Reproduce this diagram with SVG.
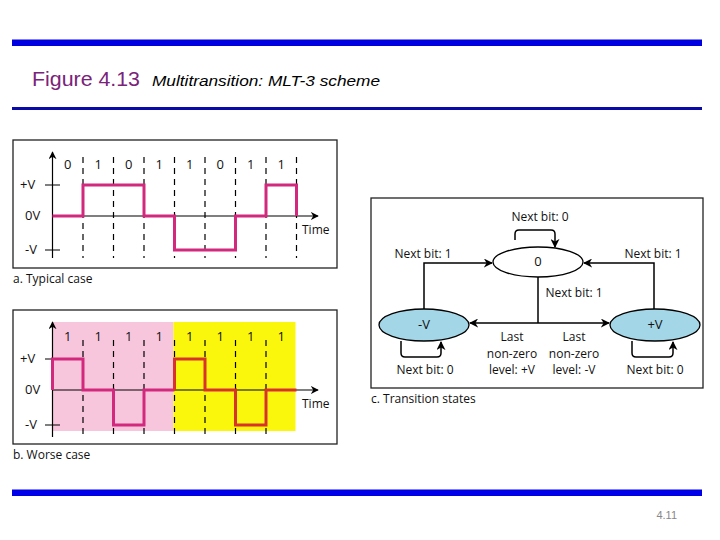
<svg xmlns="http://www.w3.org/2000/svg" width="720" height="540" viewBox="0 0 720 540">
<defs>
<marker id="ah" viewBox="0 0 10 10" refX="9" refY="5" markerWidth="9" markerHeight="9" markerUnits="userSpaceOnUse" orient="auto"><path d="M0,0 L10,5 L0,10 L3,5 Z" fill="#000"/></marker>
<marker id="ahs" viewBox="0 0 10 10" refX="9" refY="5" markerWidth="8" markerHeight="8" markerUnits="userSpaceOnUse" orient="auto"><path d="M0,0 L10,5 L0,10 L3,5 Z" fill="#000"/></marker>
</defs>
<style>
.t{font-family:"Open Sans","Liberation Sans",sans-serif;font-size:12px;fill:#111}
.b{font-size:13px}
.tm{text-anchor:middle}
.box{fill:#fff;stroke:#222;stroke-width:1.3}
.ax{stroke:#000;stroke-width:1.2;fill:none}
.dash{stroke:#000;stroke-width:1.2;stroke-dasharray:6 5;fill:none}
.sig{stroke:#d2287e;stroke-width:3;fill:none;stroke-linejoin:miter}
.sig2{stroke:#d8322c;stroke-width:3;fill:none;stroke-linejoin:miter}
.con{stroke:#000;stroke-width:1.5;fill:none}
</style>
<rect width="720" height="540" fill="#fff"/>
<rect x="12" y="39.5" width="690" height="6.5" fill="#0000e0"/>
<rect x="12" y="107" width="690" height="3" fill="#0a0aa8"/>
<rect x="12" y="489.5" width="690" height="6.5" fill="#0000e8"/>
<text x="32" y="86" font-family="Liberation Sans, sans-serif" font-size="21" fill="#7a237a" textLength="108" lengthAdjust="spacingAndGlyphs">Figure 4.13</text>
<text x="152" y="86" font-family="Liberation Sans, sans-serif" font-size="15" font-style="italic" fill="#000" textLength="228" lengthAdjust="spacingAndGlyphs">Multitransition: MLT-3 scheme</text>
<text x="677" y="519" font-family="Liberation Sans, sans-serif" font-size="11" fill="#888" text-anchor="end">4.11</text>

<g id="panel-a">
<rect class="box" x="13" y="140" width="324" height="128"/>
<g class="dash">
<path d="M83 157V258M113.5 157V258M144 157V258M174.5 157V258M205 157V258M235.5 157V258M266 157V258M296.5 157V258"/>
</g>
<path class="ax" d="M52.5 258V152" marker-end="url(#ahs)"/>
<path class="ax" d="M52.5 216H318" marker-end="url(#ahs)"/>
<path class="ax" d="M45 185H60M45 250H60"/>
<path class="sig" d="M52.5 216H83V185H144V216H174.5V250H235.5V216H266V185H296.5V216"/>
<g class="t tm b">
<text x="67.75" y="169">0</text><text x="98.25" y="169">1</text><text x="128.75" y="169">0</text><text x="159.25" y="169">1</text>
<text x="189.75" y="169">1</text><text x="220.25" y="169">0</text><text x="250.75" y="169">1</text><text x="281.25" y="169">1</text>
</g>
<text class="t b" x="20" y="189">+V</text>
<text class="t b" x="25" y="220">0V</text>
<text class="t b" x="25" y="254">-V</text>
<text class="t" x="302" y="234">Time</text>
<text class="t" x="13" y="283">a. Typical case</text>
</g>

<g id="panel-b">
<rect class="box" x="13" y="310" width="324" height="134"/>
<rect x="53" y="322" width="120.5" height="109" fill="#f8c6dc"/>
<rect x="173.5" y="322" width="122" height="109" fill="#fbf70c"/>
<g class="dash">
<path d="M83 340V437M113.5 340V437M144 340V437M174.5 340V437M205 340V437M235.5 340V437M266 340V437"/>
</g>
<path class="ax" d="M52.5 437V322" marker-end="url(#ahs)"/>
<path class="ax" d="M52.5 390H318" marker-end="url(#ahs)"/>
<path class="ax" d="M45 359H53M45 425H60"/>
<path class="sig" d="M52.5 390V359H83V390H113.5V425H144V390H174.5"/>
<path class="sig2" d="M174.5 390V359H205V390H235.5V425H266V390H296.5"/>
<g class="t tm b">
<text x="67.75" y="341">1</text><text x="98.25" y="341">1</text><text x="128.75" y="341">1</text><text x="159.25" y="341">1</text>
<text x="189.75" y="341">1</text><text x="220.25" y="341">1</text><text x="250.75" y="341">1</text><text x="281.25" y="341">1</text>
</g>
<text class="t b" x="20" y="363">+V</text>
<text class="t b" x="25" y="394">0V</text>
<text class="t b" x="25" y="429">-V</text>
<text class="t" x="302" y="408">Time</text>
<text class="t" x="13" y="459">b. Worse case</text>
</g>

<g id="panel-c">
<rect class="box" x="371" y="198" width="332" height="190"/>
<text class="t" x="371" y="403">c. Transition states</text>
</g>

<g id="connectors">
<path class="con" d="M515 240V234Q515 230 519 230H551Q555 230 555 234V247" marker-end="url(#ah)"/>
<path class="con" d="M424 309V263H492" marker-end="url(#ah)"/>
<path class="con" d="M654 309V263H584" marker-end="url(#ah)"/>
<path class="con" d="M538 277V323"/>
<path class="con" stroke-width="2.5" d="M538 323H470" marker-end="url(#ah)"/>
<path class="con" stroke-width="2.5" d="M538 323H609" marker-end="url(#ah)"/>
<path class="con" d="M401 341V353Q401 357 405 357H437Q441 357 441 353V342" marker-end="url(#ah)"/>
<path class="con" d="M632 341V353Q632 357 636 357H669Q673 357 673 353V342" marker-end="url(#ah)"/>
</g>

<g id="node-zero">
<ellipse cx="538" cy="262" rx="45" ry="15" fill="#fff" stroke="#000" stroke-width="1.3"/>
<text class="t tm b" x="538" y="266">0</text>
</g>
<g id="node-minusV">
<ellipse cx="424" cy="325" rx="45" ry="16" fill="#a3d6e6" stroke="#000" stroke-width="1.3"/>
<text class="t tm b" x="424" y="329">-V</text>
</g>
<g id="node-plusV">
<ellipse cx="655" cy="325" rx="45" ry="16" fill="#a3d6e6" stroke="#000" stroke-width="1.3"/>
<text class="t tm b" x="655" y="329">+V</text>
</g>

<g class="t tm">
<text x="540" y="221">Next bit: 0</text>
<text x="423" y="258">Next bit: 1</text>
<text x="653" y="258">Next bit: 1</text>
<text x="574" y="297">Next bit: 1</text>
<text x="425" y="374">Next bit: 0</text>
<text x="655" y="374">Next bit: 0</text>
<text x="512" y="341">Last</text>
<text x="512" y="358">non-zero</text>
<text x="512" y="374">level: +V</text>
<text x="574" y="341">Last</text>
<text x="574" y="358">non-zero</text>
<text x="574" y="374">level: -V</text>
</g>
</svg>
